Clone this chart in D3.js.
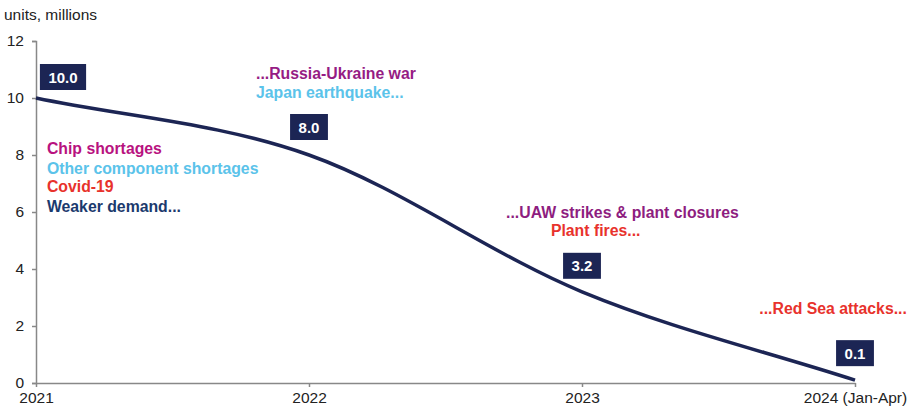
<!DOCTYPE html>
<html><head><meta charset="utf-8">
<script src="https://cdn.jsdelivr.net/npm/d3@7"></script>
<style>
body{margin:0;background:#fff;}
svg{display:block;font-family:"Liberation Sans",Arial,sans-serif;}
</style></head>
<body><svg id="c" width="916" height="412"></svg>
<script>
const years = ["2021","2022","2023","2024 (Jan-Apr)"];
const values = [10.0, 8.0, 3.2, 0.1];
const valueLabels = ["10.0","8.0","3.2","0.1"];
const yTicks = [0,2,4,6,8,10,12];
const annotations = [
  {text:"...Russia-Ukraine war", color:"#961c84", col:0.806, val:10.65, anchor:"start"},
  {text:"Japan earthquake...", color:"#5bc3ea", col:0.806, val:10.0, anchor:"start"},
  {text:"Chip shortages", color:"#b8127f", col:0.04, val:8.05, anchor:"start"},
  {text:"Other component shortages", color:"#5bc3ea", col:0.04, val:7.35, anchor:"start"},
  {text:"Covid-19", color:"#e8322c", col:0.04, val:6.7, anchor:"start"},
  {text:"Weaker demand...", color:"#1b3a6e", col:0.04, val:6.0, anchor:"start"},
  {text:"...UAW strikes & plant closures", color:"#8e1d80", col:1.722, val:5.8, anchor:"start"},
  {text:"Plant fires...", color:"#e8322c", col:1.886, val:5.17, anchor:"start"},
  {text:"...Red Sea attacks...", color:"#e8322c", col:3.19, val:2.42, anchor:"end"}
];

const svg = d3.select("#c");
const x = d3.scalePoint().domain(years).range([36, 855]);
const y = d3.scaleLinear().domain([0,12]).range([383, 41]);
const xc = d3.scaleLinear().domain([0,3]).range([36,855]);
const FONT = "Liberation Sans, Arial, sans-serif";

// title
svg.append("text").attr("x",4).attr("y",20).attr("font-size",15.5).attr("fill","#222").text("units, millions");

// y axis
const ya = svg.append("g").attr("transform","translate(36,0)")
  .call(d3.axisLeft(y).tickValues(yTicks).tickSize(4).tickPadding(8).tickFormat(d3.format("d")));
ya.select(".domain").attr("stroke","#888").attr("stroke-width",1.5);
ya.selectAll(".tick line").attr("stroke","#888").attr("stroke-width",1.5);
ya.selectAll(".tick text").attr("font-size",15.5).attr("fill","#222").attr("font-family",FONT);

// x axis
const xa = svg.append("g").attr("transform","translate(0,383)")
  .call(d3.axisBottom(x).tickSize(4).tickSizeOuter(0).tickPadding(5));
xa.select(".domain").attr("stroke","#888").attr("stroke-width",1.5);
xa.selectAll(".tick line").attr("stroke","#888").attr("stroke-width",1.5);
xa.selectAll(".tick text").attr("font-size",15.5).attr("fill","#222").attr("font-family",FONT);

// smooth line: cubic Hermite with central-difference tangents, secant tangents at the ends
const data = years.map((yr,i)=>({yr, v:values[i], lab:valueLabels[i]}));
const pts = data.map(d=>[x(d.yr), y(d.v)]);
const n = pts.length;
const tang = pts.map((p,i)=>{
  if(i===0) return (pts[1][1]-pts[0][1])/(pts[1][0]-pts[0][0]);
  if(i===n-1) return (pts[n-1][1]-pts[n-2][1])/(pts[n-1][0]-pts[n-2][0]);
  return (pts[i+1][1]-pts[i-1][1])/(pts[i+1][0]-pts[i-1][0]);
});
const p = d3.path();
p.moveTo(pts[0][0], pts[0][1]);
for(let i=0;i<n-1;i++){
  const h = (pts[i+1][0]-pts[i][0])/3;
  p.bezierCurveTo(pts[i][0]+h, pts[i][1]+tang[i]*h, pts[i+1][0]-h, pts[i+1][1]-tang[i+1]*h, pts[i+1][0], pts[i+1][1]);
}
svg.append("path").attr("d", p.toString())
  .attr("fill","none").attr("stroke","#1c2554").attr("stroke-width",3.5);

// value boxes
const boxOff = [{dx:27,dy:-21},{dx:0,dy:-28},{dx:0,dy:-26},{dx:0,dy:-27}];
data.forEach((d,i)=>{
  const cx = x(d.yr)+boxOff[i].dx, cy = y(d.v)+boxOff[i].dy;
  const g = svg.append("g");
  const t = g.append("text").attr("x",cx).attr("y",cy+5.5).attr("text-anchor","middle")
    .attr("font-size",15).attr("font-weight","bold").attr("fill","#fff").text(d.lab);
  const w = t.node().getComputedTextLength()+17;
  g.insert("rect","text").attr("x",cx-w/2).attr("y",cy-13).attr("width",w).attr("height",26).attr("fill","#1c2554");
});

// annotations
annotations.forEach(a=>{
  svg.append("text").attr("x",xc(a.col)).attr("y",y(a.val)).attr("font-size",15.8)
    .attr("font-weight","bold").attr("fill",a.color).attr("text-anchor",a.anchor).text(a.text);
});
</script></body></html>
